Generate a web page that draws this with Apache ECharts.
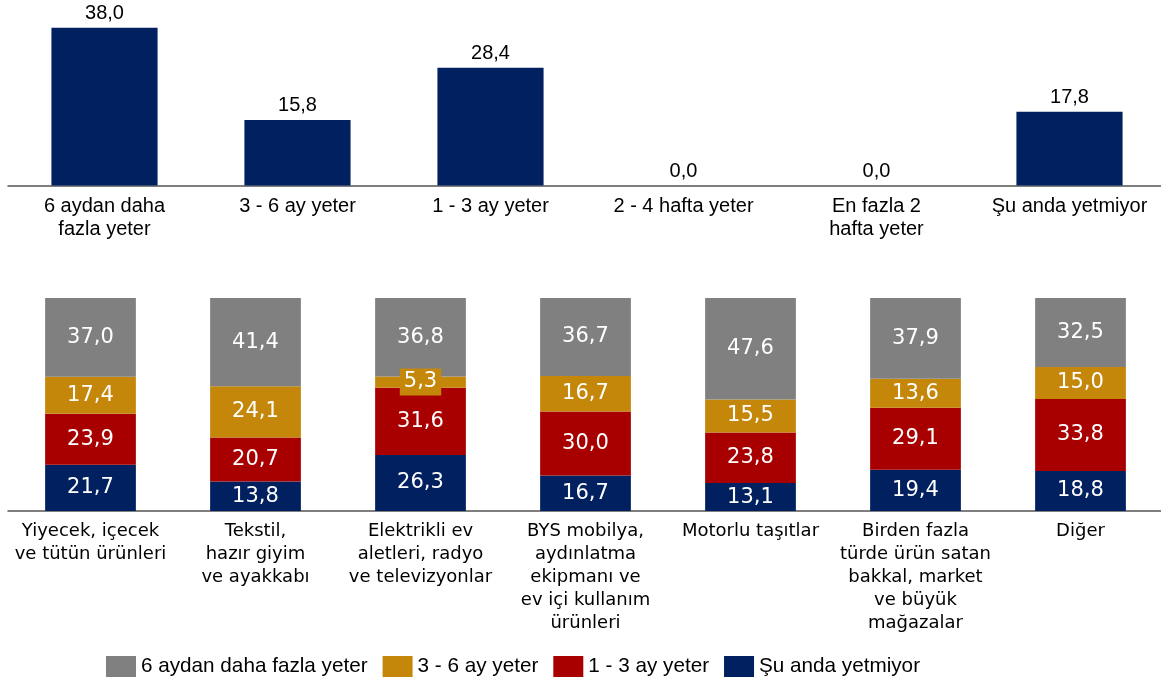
<!DOCTYPE html>
<html>
<head>
<meta charset="utf-8">
<script src="https://cdn.jsdelivr.net/npm/echarts@6/dist/echarts.min.js"></script>
<style>
html,body{margin:0;padding:0;background:#fff;overflow:hidden;}
#c{width:1172px;height:686px;}
</style>
</head>
<body>
<div id="c"></div>
<script>
// Top chart
var topCategories = ["6 aydan daha\nfazla yeter", "3 - 6 ay yeter", "1 - 3 ay yeter", "2 - 4 hafta yeter", "En fazla 2\nhafta yeter", "Şu anda yetmiyor"];
var topValues = [38.0, 15.8, 28.4, 0.0, 0.0, 17.8];

// Bottom chart
var bottomCategories = [
  "Yiyecek, içecek\nve tütün ürünleri",
  "Tekstil,\nhazır giyim\nve ayakkabı",
  "Elektrikli ev\naletleri, radyo\nve televizyonlar",
  "BYS mobilya,\naydınlatma\nekipmanı ve\nev içi kullanım\nürünleri",
  "Motorlu taşıtlar",
  "Birden fazla\ntürde ürün satan\nbakkal, market\nve büyük\nmağazalar",
  "Diğer"
];
var seriesNames = ["6 aydan daha fazla yeter", "3 - 6 ay yeter", "1 - 3 ay yeter", "Şu anda yetmiyor"];
var sixPlus = [37.0, 41.4, 36.8, 36.7, 47.6, 37.9, 32.5];
var threeSix = [17.4, 24.1, 5.3, 16.7, 15.5, 13.6, 15.0];
var oneThree = [23.9, 20.7, 31.6, 30.0, 23.8, 29.1, 33.8];
var notEnough = [21.7, 13.8, 26.3, 16.7, 13.1, 19.4, 18.8];

var C_GRAY = '#808080', C_GOLD = '#C4870A', C_RED = '#A80000', C_NAVY = '#002060';

function fmt(p){ return p.value.toFixed(1).replace('.', ','); }

var stackLabel = {
  show: true, position: 'inside', color: '#fff',
  fontFamily: 'DejaVu Sans', fontSize: 21, formatter: fmt
};

function goldData(){
  return threeSix.map(function(v){
    if (v < 8) {
      return {value: v, label: {backgroundColor: C_GOLD, padding: [3, 4, 3, 4]}};
    }
    return v;
  });
}

var chart = echarts.init(document.getElementById('c'), null, {renderer: 'canvas'});
chart.setOption({
  animation: false,
  backgroundColor: '#fff',
  legend: {
    data: seriesNames,
    left: 106, top: 656, padding: 0,
    itemWidth: 30, itemHeight: 21, itemGap: 15,
    icon: 'rect',
    textStyle: {fontFamily: 'Liberation Sans', fontSize: 20.7, color: '#000'}
  },
  grid: [
    {left: 8, width: 1158, top: 19.5, height: 166},
    {left: 8, width: 1155, top: 298, height: 213}
  ],
  xAxis: [
    {
      type: 'category', gridIndex: 0, data: topCategories,
      axisLine: {lineStyle: {color: '#555', width: 1.5}},
      axisTick: {show: false},
      axisLabel: {interval: 0, margin: 9, fontFamily: 'Liberation Sans', fontSize: 20, lineHeight: 23, color: '#000'}
    },
    {
      type: 'category', gridIndex: 1, data: bottomCategories,
      axisLine: {lineStyle: {color: '#555', width: 1.5}},
      axisTick: {show: false},
      axisLabel: {interval: 0, margin: 9, fontFamily: 'DejaVu Sans', fontSize: 18, lineHeight: 23, color: '#000'}
    }
  ],
  yAxis: [
    {type: 'value', gridIndex: 0, min: 0, max: 40, show: false, splitLine: {show: false}},
    {type: 'value', gridIndex: 1, min: 0, max: 100, show: false, splitLine: {show: false}}
  ],
  series: [
    {
      name: 'Genel', type: 'bar', xAxisIndex: 0, yAxisIndex: 0,
      data: topValues, barWidth: '55%',
      itemStyle: {color: C_NAVY},
      label: {show: true, position: 'top', distance: 4, color: '#000', fontFamily: 'Liberation Sans', fontSize: 20, formatter: fmt}
    },
    {
      name: seriesNames[3], type: 'bar', stack: 's', xAxisIndex: 1, yAxisIndex: 1,
      data: notEnough, barWidth: '55%', itemStyle: {color: C_NAVY}, label: stackLabel
    },
    {
      name: seriesNames[2], type: 'bar', stack: 's', xAxisIndex: 1, yAxisIndex: 1,
      data: oneThree, barWidth: '55%', itemStyle: {color: C_RED}, label: stackLabel
    },
    {
      name: seriesNames[1], type: 'bar', stack: 's', xAxisIndex: 1, yAxisIndex: 1,
      data: goldData(), barWidth: '55%', itemStyle: {color: C_GOLD}, label: stackLabel
    },
    {
      name: seriesNames[0], type: 'bar', stack: 's', xAxisIndex: 1, yAxisIndex: 1,
      data: sixPlus, barWidth: '55%', itemStyle: {color: C_GRAY}, label: stackLabel
    }
  ]
});
</script>
</body>
</html>
